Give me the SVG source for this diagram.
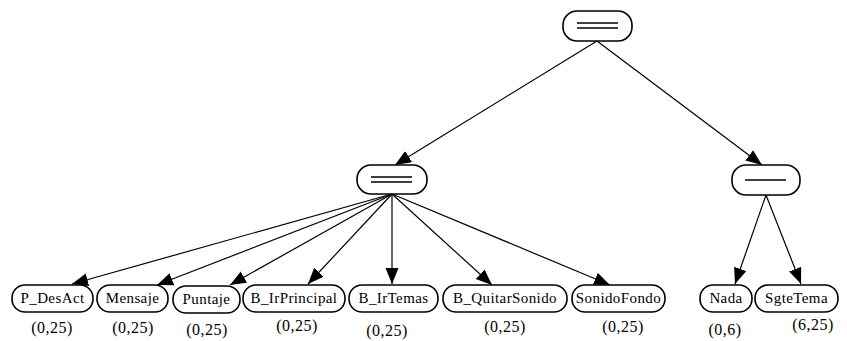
<svg xmlns="http://www.w3.org/2000/svg" width="847" height="341" viewBox="0 0 847 341">
<style>
.n{fill:#fff;stroke:#000;stroke-width:1.6}
.t{font-family:'Liberation Serif','Times New Roman',serif;font-size:15px;letter-spacing:0.4px;text-anchor:middle;fill:#000}
.w{font-family:'Liberation Serif','Times New Roman',serif;font-size:16px;letter-spacing:0.5px;text-anchor:middle;fill:#000}
.e{stroke:#000;stroke-width:1.2;fill:none;marker-end:url(#a)}
.op{stroke:#000;stroke-width:1.6}
</style>
<defs>
<marker id="a" markerUnits="userSpaceOnUse" markerWidth="17" markerHeight="14" refX="16" refY="6.5" orient="auto">
<path d="M0,0 L16,6.5 L0,13 z" fill="#000"/>
</marker>
</defs>
<g id="edges">
<line class="e" x1="597" y1="41" x2="395" y2="165"/>
<line class="e" x1="597" y1="41" x2="762" y2="165"/>
<line class="e" x1="392" y1="194" x2="72" y2="284"/>
<line class="e" x1="392" y1="194" x2="157" y2="285"/>
<line class="e" x1="392" y1="194" x2="230" y2="285"/>
<line class="e" x1="392" y1="194" x2="308" y2="284"/>
<line class="e" x1="392" y1="194" x2="392" y2="284"/>
<line class="e" x1="392" y1="194" x2="492" y2="285"/>
<line class="e" x1="392" y1="194" x2="610" y2="285"/>
<line class="e" x1="766" y1="195" x2="735" y2="284"/>
<line class="e" x1="766" y1="195" x2="801" y2="284"/>
</g>
<g id="root">
<rect class="n" x="563" y="11" width="69" height="30" rx="14"/>
<line class="op" x1="577" y1="23" x2="618" y2="23"/>
<line class="op" x1="577" y1="28" x2="618" y2="28"/>
</g>
<g id="seq">
<rect class="n" x="357" y="165" width="70" height="29" rx="14"/>
<line class="op" x1="371" y1="177" x2="412" y2="177"/>
<line class="op" x1="371" y1="182" x2="412" y2="182"/>
</g>
<g id="alt">
<rect class="n" x="732" y="165" width="68" height="30" rx="14"/>
<line class="op" x1="745" y1="180" x2="786" y2="180" stroke-width="2"/>
</g>
<g id="n1"><rect class="n" x="12" y="285" width="81" height="27" rx="13"/><text class="t" x="52.5" y="303">P_DesAct</text><text class="w" x="52" y="333">(0,25)</text></g>
<g id="n2"><rect class="n" x="97" y="285" width="71" height="27" rx="13"/><text class="t" x="132.5" y="303">Mensaje</text><text class="w" x="133" y="333">(0,25)</text></g>
<g id="n3"><rect class="n" x="173" y="286" width="67" height="27" rx="13"/><text class="t" x="206.5" y="304">Puntaje</text><text class="w" x="207" y="335">(0,25)</text></g>
<g id="n4"><rect class="n" x="243" y="285" width="102" height="27" rx="13"/><text class="t" x="294" y="303">B_IrPrincipal</text><text class="w" x="297" y="331">(0,25)</text></g>
<g id="n5"><rect class="n" x="349" y="285" width="89" height="27" rx="13"/><text class="t" x="393.5" y="303">B_IrTemas</text><text class="w" x="387" y="336">(0,25)</text></g>
<g id="n6"><rect class="n" x="443" y="285" width="124" height="27" rx="13"/><text class="t" x="505" y="303">B_QuitarSonido</text><text class="w" x="505" y="332">(0,25)</text></g>
<g id="n7"><rect class="n" x="572" y="285" width="93" height="27" rx="13"/><text class="t" x="618.5" y="303">SonidoFondo</text><text class="w" x="623" y="332">(0,25)</text></g>
<g id="n8"><rect class="n" x="700" y="285" width="52" height="27" rx="13"/><text class="t" x="726" y="303">Nada</text><text class="w" x="725" y="335">(0,6)</text></g>
<g id="n9"><rect class="n" x="755" y="285" width="83" height="27" rx="13"/><text class="t" x="796.5" y="303">SgteTema</text><text class="w" x="813" y="330">(6,25)</text></g>
</svg>
